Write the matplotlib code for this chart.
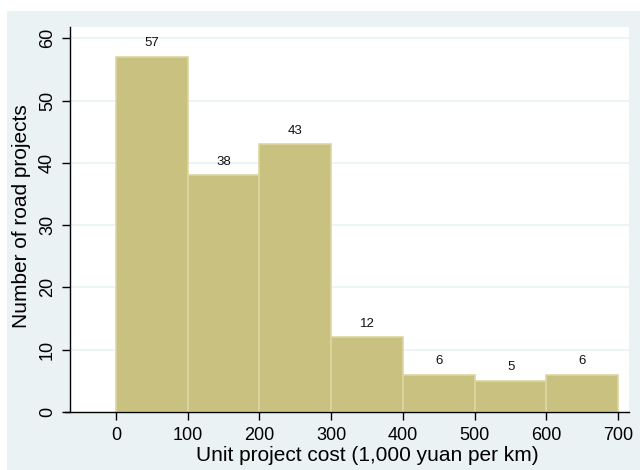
import matplotlib.pyplot as plt
import matplotlib.patches as mpatches
import numpy as np

plt.rcParams['font.family'] = ['Liberation Sans', 'DejaVu Sans']

# histogram bins (1,000 yuan per km) and counts
bin_edges = [0, 100, 200, 300, 400, 500, 600, 700]
counts = [57, 38, 43, 12, 6, 5, 6]
x_ticks = [0, 100, 200, 300, 400, 500, 600, 700]
y_ticks = [0, 10, 20, 30, 40, 50, 60]

bg = '#EAF2F3'
bar_color = '#C9C17F'
edge_color = '#DDD6A2'

fig = plt.figure(figsize=(6.4, 4.7), dpi=100, facecolor='white')
# Stata-style graph region
fig.patches.append(mpatches.Rectangle((7 / 640, 0), 1 - 7 / 640, 1 - 11 / 470,
                                      transform=fig.transFigure, facecolor=bg,
                                      edgecolor='none', zorder=-10))

ax = fig.add_axes([70 / 640, 58 / 470, 559 / 640, 385 / 470])
ax.set_facecolor('white')

lefts = np.array(bin_edges[:-1])
widths = np.diff(bin_edges)
bars = ax.bar(lefts, counts, width=widths, align='edge', color=bar_color,
              edgecolor=edge_color, linewidth=1.2, zorder=2)
for b, c in zip(bars, counts):
    ax.text(b.get_x() + b.get_width() / 2, c + 1.2, str(c), ha='center',
            va='bottom', fontsize=9.5, color='#111111', zorder=3)

ax.set_xlim(-64, 715)
ax.set_ylim(0, 61.8)
ax.set_xticks(x_ticks)
ax.set_yticks(y_ticks)
for y in y_ticks[1:]:
    ax.axhline(y, color=bg, linewidth=1.2, zorder=1)

ax.tick_params(axis='both', direction='out', length=6, width=1, labelsize=13,
               colors='black')
ax.tick_params(axis='y', labelrotation=90, pad=4)
ax.tick_params(axis='x', pad=5)
for lab in ax.get_yticklabels():
    lab.set_va('center')

ax.spines['top'].set_visible(False)
ax.spines['right'].set_visible(False)
ax.spines['left'].set_linewidth(1)
ax.spines['bottom'].set_linewidth(1)
ax.spines['bottom'].set_bounds(-64 - 7, 715)

ax.set_xlabel('Unit project cost (1,000 yuan per km)', fontsize=15)
ax.xaxis.set_label_coords(0.531, -0.088)
ax.set_ylabel('Number of road projects', fontsize=15)
ax.yaxis.set_label_coords(-0.087, 0.51)
ax.yaxis.label.set_va('center')

fig.savefig('out.png', dpi=100, facecolor=fig.get_facecolor())
